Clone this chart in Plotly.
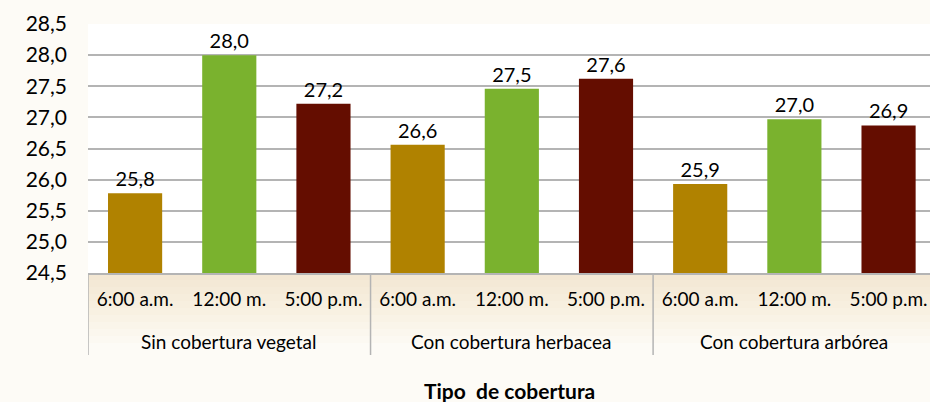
import plotly.graph_objects as go

grupos = ["Sin cobertura vegetal", "Con cobertura herbacea", "Con cobertura arbórea"]
horas = ["6:00 a.m.", "12:00 m.", "5:00 p.m."]
valores = [
    [25.78, 28.00, 27.22],
    [26.56, 27.46, 27.62],
    [25.93, 26.97, 26.87],
]
colores_hora = ["#B08200", "#7AB22E", "#640D00"]
titulo_x = "Tipo&nbsp; de cobertura"

x, y, col, txt, ticktext = [], [], [], [], []
i = 0
for g, vals in zip(grupos, valores):
    for h, v, c in zip(horas, vals, colores_hora):
        x.append(i)
        y.append(v)
        col.append(c)
        txt.append(f"{v:.1f}".replace(".", ","))
        ticktext.append(h)
        i += 1

fig = go.Figure(go.Bar(
    x=x, y=y, width=0.575, marker=dict(color=col, line=dict(width=0)),
    text=txt, textposition="outside", cliponaxis=False,
    textfont=dict(size=20, color="#000000"),
))

font = "Lato, 'Open Sans', sans-serif"
grey = "#B4B4B4"
PLOT_H = 249.0

def py(px_below):
    return -px_below / PLOT_H

shapes = []
# soft beige band under the axis
for k in range(1, 11):
    shapes.append(dict(type="rect", xref="paper", yref="paper", x0=0, x1=1.0,
                       y0=py(7 * k), y1=0, fillcolor="rgba(225,205,150,0.035)",
                       line=dict(width=0), layer="below"))
# group dividers
n = len(horas)
for gi in range(len(grupos) + 1):
    xv = gi * n - 0.5
    shapes.append(dict(type="line", xref="x", yref="paper", x0=xv, x1=xv,
                       y0=0, y1=py(82), line=dict(color=grey, width=1.5)))

annotations = []
for gi, g in enumerate(grupos):
    annotations.append(dict(x=gi * n + (n - 1) / 2, y=py(68), xref="x", yref="paper",
                            text=g, showarrow=False, yanchor="middle",
                            font=dict(size=19, color="#000000")))
annotations.append(dict(x=0.5, y=py(117), xref="paper", yref="paper",
                        text=f"<b>{titulo_x}</b>", showarrow=False, yanchor="middle",
                        font=dict(size=21, color="#000000")))

fig.update_layout(
    width=930, height=402,
    margin=dict(l=88, r=0, t=24, b=129),
    paper_bgcolor="#FDFBF6", plot_bgcolor="#FFFFFF",
    separators=",.",
    showlegend=False,
    font=dict(family=font, color="#000000"),
    yaxis=dict(range=[24.5, 28.5], dtick=0.5, tickformat=".1f",
               showgrid=True, gridcolor=grey, gridwidth=1.5,
               zeroline=False, showline=False, ticks="",
               tickfont=dict(size=21), ticklabelstandoff=20),
    xaxis=dict(range=[-0.5, 8.44], tickmode="array", tickvals=x, ticktext=ticktext,
               showline=True, linecolor=grey, linewidth=1.5, showgrid=False,
               zeroline=False, ticks="", tickfont=dict(size=19), ticklabelstandoff=8),
    shapes=shapes,
    annotations=annotations,
)
fig.write_html("out.html", config={"displayModeBar": False},
               post_script="document.body.style.margin='0';document.body.style.overflow='hidden';")
